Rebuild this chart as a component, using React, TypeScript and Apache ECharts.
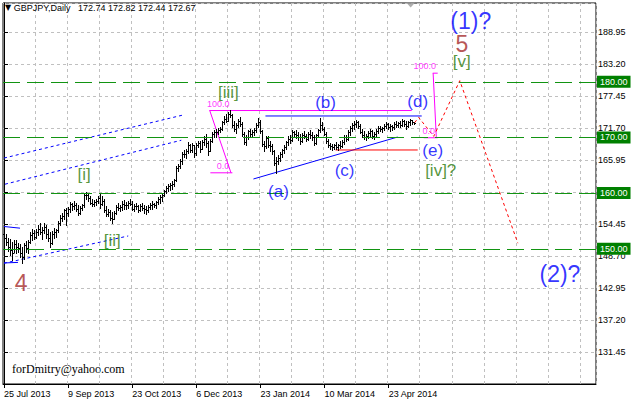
import React, { useEffect, useRef } from "react";
import * as echarts from "echarts";

const symbolName = "GBPJPY";
const timeframe = "Daily";
const slotCount = 296;
const holidays = ["2013-12-25", "2014-01-01"];
const tickLabels = ["25 Jul 2013", "9 Sep 2013", "23 Oct 2013", "6 Dec 2013", "23 Jan 2014", "10 Mar 2014", "23 Apr 2014"];
const barsPerLabel = 32;
const barsPerGridLine = 16;
const priceMin = 125.7;
const priceMax = 194.16;
const priceStep = 5.75;

const opens = [
  152.6, 151.9, 151.2, 150.4, 149.8, 149.3, 150.9, 150.3, 150.1, 149.2,
  148.6, 150.6, 150.2, 151.3, 152.5, 152.8, 152.1, 153.1, 153.6, 153.0,
  153.4, 153.9, 152.6, 151.9, 151.0, 152.6, 153.0, 153.3, 154.7, 155.6,
  155.8, 156.9, 156.4, 157.2, 158.0, 157.6, 157.9, 157.1, 156.4, 157.4,
  157.8, 159.7, 159.6, 159.1, 158.3, 158.1, 158.4, 158.6, 159.1, 158.0,
  158.5, 157.0, 156.3, 156.6, 155.6, 155.4, 156.4, 157.5, 157.3, 157.5,
  158.1, 157.8, 157.9, 158.2, 158.0, 157.2, 157.6, 157.7, 157.0, 157.6,
  157.4, 157.1, 156.9, 157.5, 157.8, 158.1, 157.9, 158.4, 158.9, 159.3,
  159.7, 160.4, 160.9, 161.2, 161.4, 161.7, 162.3, 164.6, 164.9, 165.8,
  167.0, 167.1, 167.5, 168.6, 167.8, 168.6, 167.2, 168.6, 169.0, 168.0,
  169.2, 169.8, 169.0, 167.6, 169.4, 170.6, 171.0, 170.9, 171.3, 171.5,
  172.7, 173.4, 173.0, 174.3, 174.0, 172.2, 171.6, 172.3, 172.9, 172.4,
  170.6, 169.2, 170.0, 171.1, 170.6, 170.9, 171.3, 172.3, 172.8, 171.2,
  168.9, 168.4, 169.9, 168.6, 168.5, 167.5, 165.4, 165.8, 166.3, 167.0,
  167.7, 168.3, 169.1, 169.8, 169.6, 170.9, 170.6, 170.4, 170.1, 169.4,
  170.5, 170.3, 169.8, 170.7, 170.5, 170.0, 169.0, 170.4, 171.3, 172.2,
  171.6, 170.7, 169.4, 168.6, 168.4, 168.2, 168.6, 168.3, 168.7, 168.5,
  169.2, 170.1, 169.8, 171.0, 171.7, 172.3, 172.4, 172.8, 172.1, 171.0,
  170.4, 170.0, 170.3, 170.8, 171.2, 170.3, 170.7, 171.2, 171.7, 171.5,
  171.7, 172.1, 172.4, 171.9, 172.1, 171.8, 172.5, 172.2, 172.6, 172.3,
  173.0, 172.4, 172.0, 172.7, 173.1, 172.74
];
const highs = [
  153.4, 152.6, 152.0, 151.8, 151.2, 151.6, 151.5, 151.0, 150.8, 150.3,
  151.0, 151.4, 151.6, 153.0, 153.5, 153.3, 153.6, 154.2, 154.6, 154.0,
  154.7, 154.3, 153.6, 153.0, 153.2, 153.8, 153.6, 155.0, 156.0, 156.4,
  157.2, 157.4, 157.5, 158.4, 158.3, 158.6, 158.2, 157.8, 157.6, 158.1,
  160.1, 160.2, 159.9, 159.4, 159.0, 158.8, 158.9, 159.5, 160.0, 159.4,
  158.9, 157.6, 157.2, 157.0, 156.6, 156.8, 157.8, 158.2, 157.9, 158.6,
  158.7, 158.4, 158.5, 158.9, 158.6, 158.1, 158.2, 157.9, 158.0, 158.2,
  157.9, 157.6, 157.9, 158.3, 158.5, 158.3, 158.6, 159.3, 159.6, 160.0,
  160.6, 161.3, 161.6, 161.9, 162.2, 162.6, 164.8, 165.3, 166.2, 167.4,
  167.8, 167.9, 169.2, 168.9, 169.0, 168.7, 169.0, 169.4, 169.3, 169.6,
  170.3, 170.6, 169.4, 169.8, 171.0, 171.4, 171.6, 171.7, 171.8, 173.0,
  173.8, 174.2, 174.6, 174.9, 174.2, 172.9, 172.6, 173.3, 173.6, 172.7,
  171.0, 170.4, 171.4, 171.6, 171.4, 171.7, 172.6, 173.5, 173.2, 171.4,
  169.3, 170.3, 170.2, 169.4, 168.9, 167.8, 166.4, 166.9, 167.3, 168.0,
  168.6, 169.4, 170.2, 170.5, 171.3, 171.1, 171.4, 170.9, 170.6, 170.8,
  171.2, 170.6, 171.0, 171.3, 171.0, 170.4, 170.7, 171.6, 173.5, 172.7,
  171.9, 170.9, 169.7, 169.0, 168.8, 168.9, 169.2, 168.9, 169.3, 169.5,
  170.4, 170.5, 171.3, 172.0, 172.6, 173.0, 173.1, 172.9, 172.4, 171.5,
  171.2, 170.6, 171.1, 171.6, 171.4, 171.0, 171.5, 172.0, 172.1, 171.9,
  172.4, 172.7, 172.6, 172.4, 172.3, 172.7, 172.9, 172.8, 172.9, 173.3,
  173.2, 172.9, 173.0, 173.4, 173.2, 172.82
];
const lows = [
  151.0, 150.6, 149.6, 148.9, 148.0, 149.5, 149.2, 149.4, 148.6, 147.5,
  148.2, 149.5, 149.2, 151.0, 151.6, 151.8, 151.9, 152.4, 152.6, 151.8,
  152.9, 152.0, 151.4, 150.3, 150.8, 152.0, 152.2, 153.0, 154.2, 155.0,
  155.4, 154.2, 155.9, 156.6, 157.0, 157.2, 156.8, 156.0, 156.2, 156.9,
  157.5, 159.0, 158.6, 158.1, 157.6, 157.7, 157.9, 158.2, 157.4, 157.9,
  156.6, 155.8, 155.9, 155.2, 154.6, 155.3, 156.2, 156.9, 156.8, 157.0,
  157.2, 157.1, 157.4, 157.8, 156.9, 156.8, 157.1, 156.6, 156.7, 157.0,
  156.4, 156.2, 156.6, 157.1, 157.2, 157.5, 157.4, 158.0, 158.3, 158.5,
  159.4, 160.1, 160.4, 160.6, 160.7, 161.2, 162.1, 163.9, 164.5, 165.3,
  166.4, 166.3, 167.2, 167.4, 167.3, 166.5, 166.8, 168.2, 167.4, 167.9,
  168.6, 168.3, 166.9, 167.5, 169.1, 170.1, 170.0, 170.6, 170.9, 171.3,
  172.4, 172.7, 172.9, 173.6, 171.8, 171.2, 170.8, 171.9, 172.0, 170.2,
  168.8, 168.7, 169.7, 170.2, 170.1, 170.5, 170.9, 171.9, 170.8, 168.4,
  167.6, 168.1, 168.3, 167.6, 167.1, 165.0, 163.7, 165.2, 165.8, 166.4,
  167.2, 167.9, 168.6, 169.0, 169.3, 170.2, 169.9, 169.6, 168.9, 169.2,
  169.9, 169.3, 169.6, 169.9, 169.5, 168.6, 168.9, 170.1, 171.0, 171.3,
  170.4, 169.0, 168.2, 167.9, 167.8, 167.9, 168.0, 167.8, 168.1, 168.2,
  168.9, 169.4, 169.6, 170.5, 171.2, 171.6, 171.9, 171.7, 170.8, 170.1,
  169.7, 169.5, 169.9, 170.3, 169.9, 169.8, 170.3, 170.8, 171.1, 171.0,
  171.3, 171.7, 171.6, 171.2, 171.4, 171.6, 171.9, 171.8, 171.9, 172.0,
  172.1, 171.6, 171.9, 172.3, 172.4, 172.44
];
const closes = [
  151.9, 151.2, 150.4, 149.8, 149.3, 150.9, 150.3, 150.1, 149.2, 148.6,
  150.6, 150.2, 151.3, 152.5, 152.8, 152.1, 153.1, 153.6, 153.0, 153.4,
  153.9, 152.6, 151.9, 151.0, 152.6, 153.0, 153.3, 154.7, 155.6, 155.8,
  156.9, 156.4, 157.2, 158.0, 157.6, 157.9, 157.1, 156.4, 157.4, 157.8,
  159.7, 159.6, 159.1, 158.3, 158.1, 158.4, 158.6, 159.1, 158.0, 158.5,
  157.0, 156.3, 156.6, 155.6, 155.4, 156.4, 157.5, 157.3, 157.5, 158.1,
  157.8, 157.9, 158.2, 158.0, 157.2, 157.6, 157.7, 157.0, 157.6, 157.4,
  157.1, 156.9, 157.5, 157.8, 158.1, 157.9, 158.4, 158.9, 159.3, 159.7,
  160.4, 160.9, 161.2, 161.4, 161.7, 162.3, 164.6, 164.9, 165.8, 167.0,
  167.1, 167.5, 168.6, 167.8, 168.6, 167.2, 168.6, 169.0, 168.0, 169.2,
  169.8, 169.0, 167.6, 169.4, 170.6, 171.0, 170.9, 171.3, 171.5, 172.7,
  173.4, 173.0, 174.3, 174.0, 172.2, 171.6, 172.3, 172.9, 172.4, 170.6,
  169.2, 170.0, 171.1, 170.6, 170.9, 171.3, 172.3, 172.8, 171.2, 168.9,
  168.4, 169.9, 168.6, 168.5, 167.5, 165.4, 165.8, 166.3, 167.0, 167.7,
  168.3, 169.1, 169.8, 169.6, 170.9, 170.6, 170.4, 170.1, 169.4, 170.5,
  170.3, 169.8, 170.7, 170.5, 170.0, 169.0, 170.4, 171.3, 172.2, 171.6,
  170.7, 169.4, 168.6, 168.4, 168.2, 168.6, 168.3, 168.7, 168.5, 169.2,
  170.1, 169.8, 171.0, 171.7, 172.3, 172.4, 172.8, 172.1, 171.0, 170.4,
  170.0, 170.3, 170.8, 171.2, 170.3, 170.7, 171.2, 171.7, 171.5, 171.7,
  172.1, 172.4, 171.9, 172.1, 171.8, 172.5, 172.2, 172.6, 172.3, 173.0,
  172.4, 172.0, 172.7, 173.1, 172.74, 172.67
];

const levelLines = [180, 170, 160, 150];

// drawn objects, as [bar index, price]
const channelUpper = [[0, 166.3], [89, 174.0]];
const channelMiddle = [[0.5, 161.6], [88.5, 169.5]];
const channelLower = [[0, 147.4], [62, 152.3]];
const channelLowerStub = [[0, 147.45], [7, 147.55]];
const leftStub = [[0, 154.0], [8, 153.7]];
const triangleTop = [[130.5, 173.86], [208.5, 173.86]];
const triangleBottom = [[124.5, 162.54], [196.5, 170.08]];
const waveCSupport = [[165.5, 167.75], [206.5, 167.75]];
const fiboLeft100 = [[102.5, 174.84], [203.5, 174.84]];
const fiboLeft0 = [[103, 163.65], [114, 163.65]];
const fiboLeftDiag = [[102.7, 174.84], [113.3, 163.65]];
const fiboRight100 = [[214, 181.55], [216.5, 181.55]];
const fiboRight0 = [[209.5, 169.95], [216.5, 169.95]];
const fiboRightDiag = [[214.2, 181.55], [215.8, 169.95]];
const forecastPath = [[205, 172.67], [207, 173.6], [214.5, 170.2], [227.5, 180.2], [256.5, 151.0]];

const fiboLabels = [["100.0", 107, 176.0], ["0.0", 109.3, 164.8], ["100.0", 210, 182.85], ["0.0", 212, 171.25]];
const intermediateWaves = [["4", 8.5, 143.85], ["5", 228.5, 186.8]];
const primaryWaves = [["(1)?", 233, 190.93], ["(2)?", 277.5, 145.46]];
const minuteWaves = [["[i]", 40, 163.43], ["[ii]", 54, 151.57], ["[iii]", 112, 177.99], ["[iv]?", 218, 164.15], ["[v]", 228.5, 183.56]];
const minorWaves = [["(a)", 137, 160.2], ["(b)", 160.5, 176.37], ["(c)", 170, 164.15], ["(d)", 206.5, 176.55], ["(e)", 214, 167.57]];
const shiftMarker = [[203, 194.16]];
const credit = "forDmitry@yahoo.com";

function buildDates(): string[] {
  const out: string[] = [];
  const d = new Date(Date.UTC(2013, 6, 25));
  while (out.length < slotCount) {
    const dow = d.getUTCDay();
    const iso = d.toISOString().slice(0, 10);
    if (dow !== 0 && dow !== 6 && holidays.indexOf(iso) < 0) out.push(iso);
    d.setUTCDate(d.getUTCDate() + 1);
  }
  return out;
}

const SANS = '"Liberation Sans", Arial, sans-serif';

function seg(data: number[][], color: string, type: any, width = 1, z = 3) {
  return {
    type: "line",
    xAxisIndex: 1,
    yAxisIndex: 0,
    data,
    symbol: "none",
    silent: true,
    z,
    lineStyle: { color, type, width },
  };
}

function textSeries(items: (string | number)[][], color: string, fontSize: number, family = SANS) {
  return {
    type: "scatter",
    xAxisIndex: 1,
    yAxisIndex: 0,
    symbolSize: 1,
    silent: true,
    z: 6,
    itemStyle: { color: "rgba(0,0,0,0)" },
    data: items.map((t) => ({ name: t[0], value: [t[1], t[2]] })),
    label: {
      show: true,
      position: "inside",
      formatter: "{b}",
      color,
      fontSize,
      fontFamily: family,
    },
  };
}

export default function App() {
  const ref = useRef<HTMLDivElement>(null);
  useEffect(() => {
    if (!ref.current) return;
    const chart = echarts.init(ref.current, undefined, { renderer: "svg" });
    const dates = buildDates();
    const lastBar = closes.length - 1;
    const ohlc = closes.map((c, i) => [i, opens[i], highs[i], lows[i], c]);
    const fmt = (v: number) => v.toFixed(2);
    const titleText = `{tri|▼} ${symbolName},${timeframe}   ${fmt(opens[lastBar])} ${fmt(highs[lastBar])} ${fmt(lows[lastBar])} ${fmt(closes[lastBar])}`;

    const option: any = {
      animation: false,
      backgroundColor: "#ffffff",
      title: {
        text: titleText,
        left: 5,
        top: 3,
        padding: 0,
        textStyle: {
          fontSize: 9,
          fontFamily: SANS,
          fontWeight: "normal",
          color: "#000",
          rich: { tri: { fontSize: 8, fontFamily: '"DejaVu Sans"', color: "#000" } },
        },
      },
      grid: {
        left: 3,
        top: 3,
        width: 593,
        height: 381,
        show: true,
        borderColor: "#000",
        borderWidth: 1,
        containLabel: false,
      },
      graphic: [
        {
          type: "text",
          left: 12,
          top: 363,
          silent: true,
          style: { text: credit, font: '12px "Liberation Serif", "Times New Roman", serif', fill: "#000" },
        },
      ],
      xAxis: [
        {
          type: "category",
          data: dates,
          boundaryGap: true,
          position: "bottom",
          axisLine: { show: true, lineStyle: { color: "#000", width: 1 } },
          axisTick: {
            show: true,
            alignWithLabel: true,
            length: 4,
            interval: (i: number) => i % barsPerLabel === 0 && i <= lastBar,
            lineStyle: { color: "#000" },
          },
          axisLabel: {
            show: true,
            interval: (i: number) => i % barsPerLabel === 0 && i <= lastBar,
            formatter: (_v: string, i: number) => tickLabels[Math.round(i / barsPerLabel)] ?? "",
            align: "left",
            margin: 5,
            color: "#000",
            fontSize: 9,
            fontFamily: SANS,
          },
          splitLine: {
            show: true,
            interval: (i: number) => i > 0 && i % barsPerGridLine === 0,
            lineStyle: { color: "#c0c0c0", type: [3, 3], width: 1 },
          },
        },
        {
          type: "value",
          min: -0.5,
          max: slotCount - 0.5,
          show: false,
          splitLine: { show: false },
        },
      ],
      yAxis: [
        {
          type: "value",
          position: "right",
          min: priceMin,
          max: priceMax,
          interval: priceStep,
          axisLine: { show: true, lineStyle: { color: "#000" } },
          axisTick: { show: true, length: 4, lineStyle: { color: "#000" } },
          axisLabel: {
            show: true,
            showMinLabel: false,
            showMaxLabel: false,
            formatter: (v: number) => v.toFixed(2),
            margin: 2,
            color: "#000",
            fontSize: 9,
            fontFamily: SANS,
          },
          splitLine: { show: true, lineStyle: { color: "#c0c0c0", type: [3, 3], width: 1 } },
        },
      ],
      series: [
        {
          type: "line",
          xAxisIndex: 1,
          yAxisIndex: 0,
          data: [],
          symbol: "none",
          silent: true,
          z: 2,
          markLine: {
            symbol: "none",
            silent: true,
            animation: false,
            lineStyle: { color: "#129412", type: [17, 7], width: 1.2, opacity: 1 },
            label: {
              show: true,
              position: "end",
              distance: 1,
              formatter: (p: any) => Number(p.value).toFixed(2),
              backgroundColor: "#008000",
              color: "#ffffff",
              padding: [2, 3, 1, 3],
              fontSize: 9,
              fontFamily: SANS,
            },
            emphasis: { disabled: true },
            data: levelLines.map((v) => ({ yAxis: v })),
          },
        },
        {
          type: "custom",
          xAxisIndex: 0,
          yAxisIndex: 0,
          data: ohlc,
          z: 4,
          silent: true,
          encode: { x: 0, y: [2, 3] },
          renderItem: (_params: any, api: any) => {
            const i = api.value(0);
            const hi = api.coord([i, api.value(2)]);
            const lo = api.coord([i, api.value(3)]);
            const op = api.coord([i, api.value(1)]);
            const cl = api.coord([i, api.value(4)]);
            const x = Math.floor(hi[0]) + 0.5;
            const st = { stroke: "#000", lineWidth: 1 };
            return {
              type: "group",
              children: [
                { type: "line", shape: { x1: x, y1: Math.round(hi[1]), x2: x, y2: Math.round(lo[1]) + 1 }, style: st },
                { type: "line", shape: { x1: x - 1.5, y1: Math.round(op[1]) + 0.5, x2: x, y2: Math.round(op[1]) + 0.5 }, style: st },
                { type: "line", shape: { x1: x, y1: Math.round(cl[1]) + 0.5, x2: x + 1.5, y2: Math.round(cl[1]) + 0.5 }, style: st },
              ],
            };
          },
        },
        seg(channelUpper, "#0000ff", [3, 3]),
        seg(channelMiddle, "#0000ff", [3, 3]),
        seg(channelLower, "#0000ff", [3, 3]),
        seg(channelLowerStub, "#0000ff", "solid"),
        seg(leftStub, "#0000ff", "solid"),
        seg(triangleTop, "#0000ff", "solid"),
        seg(triangleBottom, "#0000ff", "solid"),
        seg(waveCSupport, "#ff0000", "solid"),
        seg(fiboLeft100, "#ff00ff", "solid"),
        seg(fiboLeft0, "#ff00ff", "solid"),
        seg(fiboLeftDiag, "#ff00ff", "solid"),
        seg(fiboRight100, "#ff00ff", "solid"),
        seg(fiboRight0, "#ff00ff", "solid"),
        seg(fiboRightDiag, "#ff00ff", "solid"),
        seg(forecastPath, "#ff0000", [3, 3], 1, 5),
        textSeries(fiboLabels, "#ff00ff", 9),
        textSeries(intermediateWaves, "#a52a2a", 23),
        textSeries(primaryWaves, "#0000ff", 23),
        textSeries(minuteWaves, "#2a7a0a", 17),
        textSeries(minorWaves, "#0000ff", 17),
        {
          type: "scatter",
          xAxisIndex: 1,
          yAxisIndex: 0,
          data: shiftMarker,
          symbol: "triangle",
          symbolRotate: 180,
          symbolSize: [9, 5],
          symbolOffset: [0, 2],
          silent: true,
          itemStyle: { color: "#9a9a9a" },
          z: 6,
        },
      ],
    };
    chart.setOption(option);
    return () => chart.dispose();
  }, []);
  return (
    <div
      ref={ref}
      style={{ position: "fixed", left: 0, top: 0, width: 633, height: 404, background: "#fff" }}
    />
  );
}
